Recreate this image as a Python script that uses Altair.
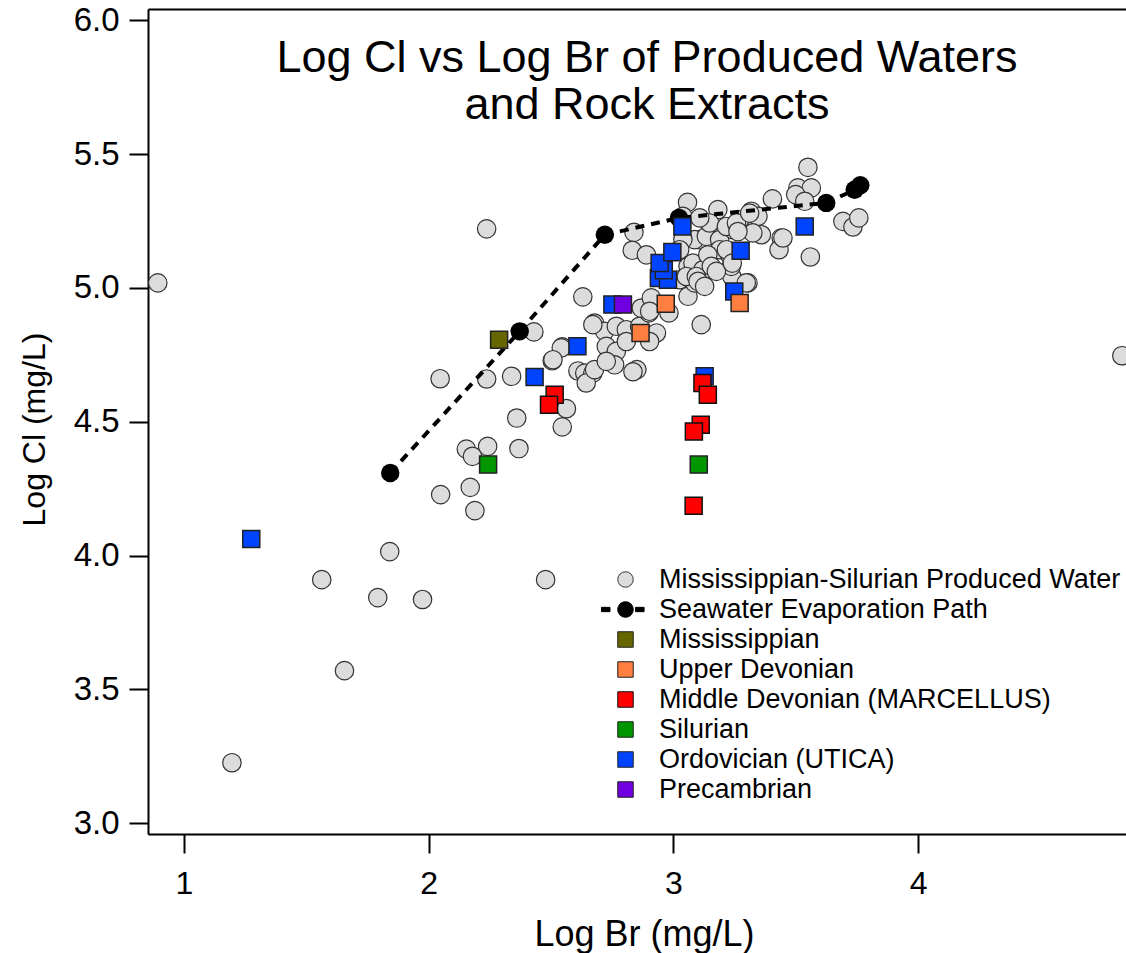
import altair as alt
import pandas as pd

# ---------------- data ----------------
SERIES = [
    "Mississippian-Silurian Produced Water",
    "Seawater Evaporation Path",
    "Mississippian",
    "Upper Devonian",
    "Middle Devonian (MARCELLUS)",
    "Silurian",
    "Ordovician (UTICA)",
    "Precambrian",
]

pw_x = [0.893, 1.196, 1.656, 1.563, 1.792, 1.841, 1.975, 2.478, 2.237, 4.833,
        2.047, 2.237, 2.339, 2.360, 2.154, 2.241, 2.179, 2.369, 2.170, 2.049,
        2.189, 2.430, 2.546, 2.505, 2.563, 2.546, 2.630, 2.610,
        2.839, 2.832, 2.890, 3.058, 3.182, 3.550, 3.509, 3.564, 3.500, 3.537,
        3.405, 3.693, 3.734, 3.758, 3.441, 3.432, 3.560, 3.319, 3.285, 3.346,
        3.360, 3.305, 3.239, 3.114, 2.851, 2.678, 2.719, 2.767, 2.808, 2.726,
        2.767, 2.760, 2.808, 2.862, 2.900, 2.931, 2.903, 2.869, 2.910, 2.982,
        3.026, 3.060, 3.060, 3.087, 3.121, 3.080, 3.121, 3.108, 3.087, 3.135,
        3.189, 3.189, 3.230, 3.237, 3.271, 3.325, 3.244, 3.148, 3.039, 3.039,
        3.026, 3.141, 3.155, 3.176, 3.053, 3.094, 2.638, 2.671, 2.644, 2.678,
        2.726, 2.542, 2.508, 3.108, 3.217, 3.101, 3.128, 3.217, 3.258, 3.312,
        3.264, 3.448, 3.241, 3.298, 2.671, 2.835, 2.903]
pw_y = [5.019, 3.226, 3.570, 3.910, 3.843, 4.015, 3.836, 3.910, 5.221, 4.747,
        4.661, 4.660, 4.670, 4.514, 4.398, 4.408, 4.371, 4.400, 4.255, 4.228,
        4.168, 4.836, 4.780, 4.728, 4.549, 4.481, 4.967, 4.690,
        5.208, 5.141, 5.124, 5.320, 5.293, 5.451, 5.374, 5.374, 5.349, 5.324,
        5.333, 5.249, 5.228, 5.262, 5.187, 5.143, 5.116, 5.287, 5.249, 5.268,
        5.199, 5.019, 5.043, 4.863, 4.695, 4.869, 4.838, 4.857, 4.844, 4.782,
        4.763, 4.713, 4.800, 4.857, 4.907, 4.832, 4.800, 4.925, 4.963, 4.907,
        5.031, 4.969, 5.081, 5.019, 5.019, 5.093, 5.068, 5.181, 5.181, 5.193,
        5.181, 5.143, 5.124, 5.081, 5.255, 5.206, 5.218, 5.243, 5.268, 5.181,
        5.143, 5.124, 5.081, 5.062, 5.043, 5.043, 4.682, 4.682, 4.645, 4.695,
        4.726, 4.776, 4.732, 5.262, 5.143, 5.025, 5.006, 5.230, 5.243, 5.280,
        5.211, 5.187, 5.093, 5.019, 4.863, 4.687, 4.913]

sw_x = [1.843, 2.372, 2.720, 3.023, 3.625, 3.741, 3.764]
sw_y = [4.309, 4.838, 5.199, 5.262, 5.318, 5.367, 5.384]

ordo_x = [1.275, 2.433, 2.608, 2.751, 2.941, 2.978, 2.961, 2.944, 2.996, 3.037, 3.128, 3.249, 3.275, 3.537]
ordo_y = [4.062, 4.667, 4.782, 4.938, 5.037, 5.031, 5.066, 5.093, 5.134, 5.230, 4.670, 4.987, 5.139, 5.230]
miss_x = [2.288]
miss_y = [4.807]
updev_x = [2.866, 2.969, 3.271]
updev_y = [4.832, 4.941, 4.944]
middev_x = [2.515, 2.492, 3.119, 3.141, 3.112, 3.084, 3.083]
middev_y = [4.601, 4.564, 4.645, 4.601, 4.489, 4.464, 4.186]
sil_x = [2.243, 3.104]
sil_y = [4.340, 4.340]
pre_x = [2.794]
pre_y = [4.938]

X_TICKS = [1, 2, 3, 4]
Y_TICKS = [3.0, 3.5, 4.0, 4.5, 5.0, 5.5, 6.0]

TITLE_LINES = ["Log Cl vs Log Br of Produced Waters", "and Rock Extracts\u00a0\u00a0\u00a0"]

FILLS = ["#dcdcdc", "#000000", "#666600", "#ff7f40", "#ff0000", "#009600", "#0044ff", "#7000e0"]
OUTLINES = ["#333333", "#000000", "#222222", "#222222", "#111111", "#222222", "#222222", "#222222"]
SW_SYMBOL = ("M -3.1 -0.28 L -2.0 -0.28 L -2.0 0.28 L -3.1 0.28 Z "
             "M 1.3 -0.28 L 2.4 -0.28 L 2.4 0.28 L 1.3 0.28 Z "
             "M -1 0 A 1 1 0 1 0 1 0 A 1 1 0 1 0 -1 0 Z")
SHAPES = ["circle", SW_SYMBOL, "square", "square", "square", "square", "square", "square"]

# ---------------- tables ----------------
pw = pd.DataFrame({"x": pw_x, "y": pw_y, "series": SERIES[0]})
sw = pd.DataFrame({"x": sw_x, "y": sw_y, "series": SERIES[1]})
groups = [
    (ordo_x, ordo_y, "Ordovician (UTICA)"),
    (miss_x, miss_y, "Mississippian"),
    (updev_x, updev_y, "Upper Devonian"),
    (middev_x, middev_y, "Middle Devonian (MARCELLUS)"),
    (sil_x, sil_y, "Silurian"),
    (pre_x, pre_y, "Precambrian"),
]
rock = pd.concat([pd.DataFrame({"x": gx, "y": gy, "series": name}) for gx, gy, name in groups],
                 ignore_index=True)
rock["order"] = range(len(rock))

FONT = "Liberation Sans"
xs = alt.Scale(domain=[0.853, 4.85], nice=False, zero=False)
ys = alt.Scale(domain=[2.9596, 6.0426], nice=False, zero=False)
fs = alt.Scale(domain=SERIES, range=FILLS)
os_ = alt.Scale(domain=SERIES, range=OUTLINES)
ss = alt.Scale(domain=SERIES, range=SHAPES)

legend = alt.Legend(
    orient="none", legendX=464, legendY=557, title=None,
    labelFontSize=27, labelFont=FONT, labelColor="black", labelLimit=700,
    symbolSize=240, labelOffset=20, rowPadding=2, padding=0,
    symbolStrokeWidth=1, symbolOpacity=1,
)

x_axis = alt.Axis(values=X_TICKS, format="d", title="Log Br (mg/L)", grid=False,
                  tickSize=19, tickWidth=2, tickColor="black",
                  domainWidth=2, domainColor="black",
                  labelFontSize=32, labelFont=FONT, labelColor="black", labelPadding=15,
                  titleFontSize=36, titleFont=FONT, titleColor="black",
                  titleFontWeight="normal", titlePadding=18, titleX=496, titleAlign="center")
y_axis = alt.Axis(values=Y_TICKS, format=".1f", title="Log Cl (mg/L)", grid=False,
                  tickSize=19, tickWidth=2, tickColor="black",
                  domainWidth=2, domainColor="black",
                  labelFontSize=33, labelFont=FONT, labelColor="black", labelPadding=10,
                  titleFontSize=32, titleFont=FONT, titleColor="black",
                  titleFontWeight="normal", titlePadding=22, titleY=420, titleAlign="center")
top_axis = alt.Axis(orient="top", labels=False, ticks=False, title=None, grid=False,
                    domainWidth=2, domainColor="black")

circles = alt.Chart(pw).mark_point(filled=False, size=340, strokeWidth=1.2,
                                   fillOpacity=1, opacity=1).encode(
    x=alt.X("x:Q", scale=xs, axis=x_axis),
    y=alt.Y("y:Q", scale=ys, axis=y_axis),
    fill=alt.Fill("series:N", scale=fs, legend=legend),
    color=alt.Color("series:N", scale=os_, legend=legend),
    shape=alt.Shape("series:N", scale=ss, legend=legend),
)

line = alt.Chart(sw).mark_line(color="black", strokeWidth=4, strokeDash=[9, 7]).encode(
    x=alt.X("x:Q", scale=xs, axis=top_axis),
    y=alt.Y("y:Q", scale=ys, axis=y_axis),
)

dots = alt.Chart(sw).mark_point(filled=True, size=340, opacity=1).encode(
    x=alt.X("x:Q", scale=xs, axis=None),
    y=alt.Y("y:Q", scale=ys, axis=y_axis),
    color=alt.value("black"),
    shape=alt.value("circle"),
)

squares = alt.Chart(rock).mark_point(filled=False, size=290, strokeWidth=1.5,
                                     fillOpacity=1, opacity=1).encode(
    x=alt.X("x:Q", scale=xs, axis=None),
    y=alt.Y("y:Q", scale=ys, axis=y_axis),
    fill=alt.Fill("series:N", scale=fs, legend=legend),
    color=alt.Color("series:N", scale=os_, legend=legend),
    shape=alt.Shape("series:N", scale=ss, legend=legend),
    order=alt.Order("order:Q"),
)

chart = alt.layer(circles, line, dots, squares).resolve_axis(x="independent").properties(
    width=978, height=825,
    autosize=alt.AutoSizeParams(type="none"),
    padding={"left": 148, "top": 9, "right": 0, "bottom": 119},
    title=alt.TitleParams(
        text=TITLE_LINES,
        fontSize=45, font=FONT, fontWeight="normal", color="black",
        anchor="middle", baseline="top", lineHeight=47, offset=-124, dx=10,
    ),
).configure_view(stroke=None).configure(background="white")

chart.save("out.html", embed_options={"renderer": "svg", "actions": False})
